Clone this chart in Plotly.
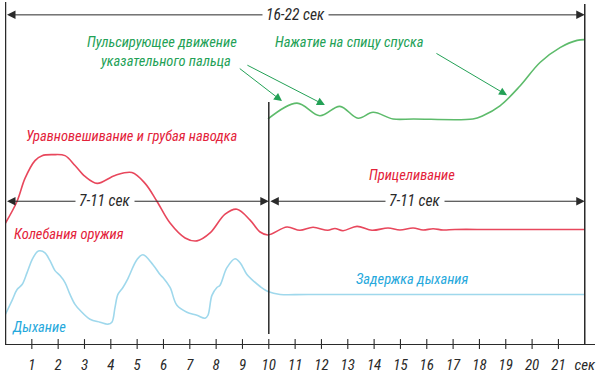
import plotly.graph_objects as go

# ---- data (time in seconds, level in arbitrary units above the time axis) ----
red_x = [0.0, 0.44, 0.74, 1.12, 1.39, 1.8, 2.26, 2.64, 3.02, 3.48, 4.16, 4.80, 5.30, 5.75,
         6.25, 6.82, 7.27, 7.77, 8.34, 8.79, 9.29, 9.67, 9.97, 10.69, 11.18, 11.68, 12.24,
         12.51, 12.82, 13.35, 13.92, 14.53, 14.98, 15.48, 15.86, 16.24, 16.62, 17.07, 18.5, 22.0]
red_y = [122, 144, 167, 185, 190, 191, 190, 180, 169, 162, 170, 173, 162, 144,
         122, 107, 104, 112, 131, 136, 125, 113, 110, 118, 114.7, 117.7, 114.7,
         116.5, 114.3, 118.7, 114.7, 117, 115, 117, 115, 116.3, 115, 115.5, 115.5, 115.5]

green_x = [9.97, 11.07, 11.94, 12.70, 13.39, 13.96, 14.72, 15.5, 17.75, 18.13, 18.78,
           19.54, 20.30, 21.06, 21.71, 22.0]
green_y = [227, 243, 230.3, 239.7, 227.7, 233.7, 227, 227, 227, 230.3, 240.3,
           260.3, 284, 299, 306.3, 307]

blue_x = [0.0, 0.25, 0.44, 0.63, 0.82, 1.01, 1.20, 1.31, 1.50, 1.69, 1.88, 2.07, 2.26,
          2.45, 2.64, 2.83, 3.21, 3.59, 3.89, 4.04, 4.16, 4.27, 4.46, 4.65, 4.99, 5.22,
          5.60, 5.87, 5.98, 6.25, 6.51, 6.89, 7.27, 7.58, 7.69, 7.84, 8.03, 8.14, 8.41,
          8.72, 8.91, 9.17, 9.36, 9.67, 9.97, 10.43, 11.5, 21.0, 22.0]
blue_y = [30, 44, 55, 60, 72, 85, 93, 94, 92, 84, 74, 69, 62,
          50, 40, 34, 25, 22, 20, 22, 37, 50, 57, 66, 85, 90,
          80, 70, 67, 57, 39, 32, 29, 26, 29, 49, 57, 59, 77,
          86, 82, 70, 65, 58, 53, 50, 50, 50, 50]

tick_vals = list(range(1, 23))
tick_text = [str(i) for i in range(1, 22)] + ["сек"]

RED_LINE = "#e8475c"
RED_TXT = "#e3223a"
GREEN_LINE = "#5dbb6b"
GREEN_TXT = "#23a156"
BLUE_LINE = "#9fd8ec"
BLUE_TXT = "#25a8dc"
INK = "#2a2a2a"
FONT = "Liberation Sans Narrow, Arial Narrow, Roboto Condensed, Liberation Sans, sans-serif"

fig = go.Figure()
for xs, ys, c in [(blue_x, blue_y, BLUE_LINE), (red_x, red_y, RED_LINE), (green_x, green_y, GREEN_LINE)]:
    fig.add_trace(go.Scatter(x=xs, y=ys, mode="lines", line=dict(color=c, width=1.6, shape="spline", smoothing=1),
                             hoverinfo="skip", showlegend=False))

# tick marks crossing the axis
fig.add_trace(go.Scatter(x=tick_vals[:-1], y=[0] * 21, mode="markers",
                         marker=dict(symbol="line-ns", size=7, line=dict(color=INK, width=1.1)),
                         cliponaxis=False, hoverinfo="skip", showlegend=False))

shapes = [
    dict(type="line", xref="x", yref="y", x0=0, x1=0, y0=-3, y1=345, line=dict(color=INK, width=1.5)),
    dict(type="line", xref="x", yref="y", x0=22, x1=22, y0=-3, y1=343, line=dict(color=INK, width=1.5)),
    dict(type="line", xref="x", yref="y", x0=10, x1=10, y0=10, y1=244, line=dict(color=INK, width=1.5)),
]

ann = []
def darrow(x0, x1, y):
    ann.append(dict(x=x1, y=y, ax=x0, ay=y, xref="x", yref="y", axref="x", ayref="y", text="",
                    showarrow=True, arrowhead=2, arrowside="end+start", arrowsize=1.7, arrowwidth=1,
                    arrowcolor=INK))

darrow(0, 22, 332)
darrow(0, 10, 144)
darrow(10, 22, 144)

def label(x, y, t, color, size=14.5, xanchor="center", bg=None):
    d = dict(x=x, y=y, xref="x", yref="y", text="<i>" + t + "</i>", showarrow=False,
             font=dict(family=FONT, size=size, color=color), xanchor=xanchor, yanchor="middle")
    if bg:
        d.update(bgcolor=bg, borderpad=3)
    ann.append(d)

label(11.0, 332, "16-22 сек", INK, 15.5, bg="white")
label(3.78, 144, "7-11 сек", INK, 15.5, bg="white")
label(15.55, 144, "7-11 сек", INK, 15.5, bg="white")
label(5.94, 304, "Пульсирующее движение", GREEN_TXT)
label(6.06, 285, "указательного пальца", GREEN_TXT)
label(13.08, 304, "Нажатие на спицу спуска", GREEN_TXT)
label(4.80, 209, "Уравновешивание и грубая наводка", RED_TXT)
label(15.44, 170, "Прицеливание", RED_TXT)
label(0.25, 110, "Колебания оружия", RED_TXT, xanchor="left")
label(15.44, 65, "Задержка дыхания", BLUE_TXT)
label(0.17, 17, "Дыхание", BLUE_TXT, xanchor="left")

def garrow(x0, y0, x1, y1):
    ann.append(dict(x=x1, y=y1, ax=x0, ay=y0, xref="x", yref="y", axref="x", ayref="y", text="",
                    showarrow=True, arrowhead=2, arrowsize=1.6, arrowwidth=1, arrowcolor=GREEN_TXT))

garrow(8.84, 279, 10.5, 245)
garrow(9.13, 282, 12.13, 241)
garrow(16.31, 294, 19.05, 251)

fig.update_layout(
    width=600, height=374, margin=dict(l=5, r=5, t=0, b=27),
    paper_bgcolor="white", plot_bgcolor="white",
    shapes=shapes, annotations=ann,
    xaxis=dict(range=[-0.019, 22.389], showgrid=False, zeroline=False, showline=True, linecolor=INK,
               linewidth=1.2, tickvals=tick_vals, ticktext=["<i>" + t + "</i>" for t in tick_text],
               ticks="", ticklabelstandoff=7, tickfont=dict(family=FONT, size=15, color=INK),
               fixedrange=True),
    yaxis=dict(range=[0, 347], visible=False, fixedrange=True),
)
fig.write_html("out.html", config={"displayModeBar": False},
               post_script="document.body.style.margin='0';document.body.style.padding='0';"
                           "document.body.style.overflow='hidden';")
